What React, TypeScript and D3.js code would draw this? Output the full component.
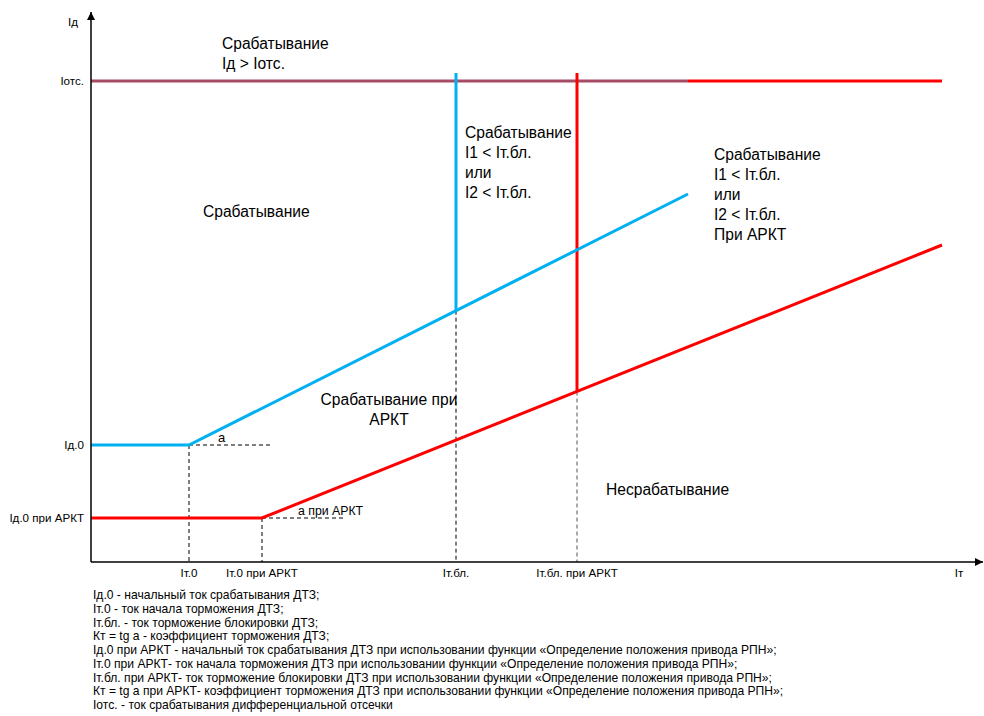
import React from "react";
import * as d3 from "d3";

// Characteristic points (Iт, Iд in relative units)
const xTickNames = ["Iт.0", "Iт.0 при АРКТ", "Iт.бл.", "Iт.бл. при АРКТ"];
const xTickValues = [9.8, 17.1, 36.5, 48.6];
const yTickNames = ["Iотс.", "Iд.0", "Iд.0 при АРКТ"];
const yTickValues = [48.1, 11.7, 4.4];

const blueLine = [
  { x: 0, y: 11.7 },
  { x: 9.8, y: 11.7 },
  { x: 59.7, y: 36.8 },
];
const redLine = [
  { x: 0, y: 4.4 },
  { x: 17.1, y: 4.4 },
  { x: 85.1, y: 31.7 },
];
const otsLineMixed = [{ x: 0, y: 48.1 }, { x: 59.7, y: 48.1 }];
const otsLineRed = [{ x: 59.7, y: 48.1 }, { x: 85.1, y: 48.1 }];
const blueVertical = [{ x: 36.5, y: 48.9 }, { x: 36.5, y: 25.13 }];
const redVertical = [{ x: 48.6, y: 48.9 }, { x: 48.6, y: 17.05 }];

const footerLines = [
  "Iд.0 - начальный ток срабатывания ДТЗ;",
  "Iт.0 - ток начала торможения ДТЗ;",
  "Iт.бл. - ток торможение блокировки ДТЗ;",
  "Кт = tg a - коэффициент торможения ДТЗ;",
  "Iд.0 при АРКТ - начальный ток срабатывания ДТЗ при использовании функции «Определение положения привода РПН»;",
  "Iт.0  при АРКТ- ток начала торможения ДТЗ при использовании функции «Определение положения привода РПН»;",
  "Iт.бл.  при АРКТ- ток торможение блокировки ДТЗ при использовании функции «Определение положения привода РПН»;",
  "Кт = tg a  при АРКТ- коэффициент торможения ДТЗ при использовании функции «Определение положения привода РПН»;",
  "Iотс. - ток срабатывания дифференциальной отсечки",
];

const x = d3.scaleLinear().domain([0, 88.4]).range([91, 975]);
const y = d3.scaleLinear().domain([0, 55]).range([562, 12]);
const line = d3
  .line<{ x: number; y: number }>()
  .x((d) => x(d.x))
  .y((d) => y(d.y));

const BLUE = "#00B0F0";
const RED = "#FF0000";
const MAROON = "#A64B65";
const FONT = "Arial, 'Liberation Sans', sans-serif";
const NARROW = "'Liberation Sans Narrow', 'Arial Narrow', Arial, sans-serif";

export default function App() {
  const x0 = x(0);
  const y0 = y(0);
  return (
    <svg
      width={984}
      height={716}
      style={{ position: "absolute", left: 0, top: 0, background: "#fff" }}
      fontFamily={FONT}
    >
      <defs>
        <marker id="arr" viewBox="0 0 10 10" refX="10" refY="5" markerWidth="8" markerHeight="8" orient="auto-start-reverse" markerUnits="userSpaceOnUse">
          <path d="M0,0 L10,5 L0,10 z" fill="#000" />
        </marker>
      </defs>

      {/* dashed guides */}
      <g stroke="#000" strokeWidth={1} strokeDasharray="4,3" fill="none">
        <line x1={x(xTickValues[0])} x2={x(xTickValues[0])} y1={y(11.7)} y2={y0} />
        <line x1={x(xTickValues[1])} x2={x(xTickValues[1])} y1={y(4.4)} y2={y0} />
        <line x1={x(xTickValues[2])} x2={x(xTickValues[2])} y1={y(25.13)} y2={y0} />
        <line x1={x(xTickValues[3])} x2={x(xTickValues[3])} y1={y(17.05)} y2={y0} stroke="#555" />
        <line x1={x(9.8)} x2={x(18.1)} y1={y(11.7)} y2={y(11.7)} />
        <line x1={x(17.1)} x2={x(25.5)} y1={y(4.4)} y2={y(4.4)} />
      </g>

      {/* characteristic lines */}
      <path d={line(otsLineMixed)!} stroke={MAROON} strokeWidth={3} fill="none" />
      <path d={line(otsLineRed)!} stroke={RED} strokeWidth={3} fill="none" />
      <path d={line(blueVertical)!} stroke={BLUE} strokeWidth={3} fill="none" />
      <path d={line(redVertical)!} stroke={RED} strokeWidth={3} fill="none" />
      <path d={line(blueLine)!} stroke={BLUE} strokeWidth={3} fill="none" />
      <path d={line(redLine)!} stroke={RED} strokeWidth={3} fill="none" />

      {/* axes */}
      <line x1={x0} x2={x0} y1={y0} y2={y(55)} stroke="#000" strokeWidth={1.5} markerEnd="url(#arr)" />
      <line x1={x0} x2={983} y1={y0} y2={y0} stroke="#000" strokeWidth={1.5} markerEnd="url(#arr)" />

      {/* axis labels */}
      <g fontSize={11.6} fill="#000">
        <text x={68} y={26}>Iд</text>
        {yTickValues.map((v, i) => (
          <text key={i} x={84} y={y(v) + 4} textAnchor="end">{yTickNames[i]}</text>
        ))}
        {xTickValues.map((v, i) => (
          <text key={i} x={x(v)} y={577} textAnchor="middle">{xTickNames[i]}</text>
        ))}
        <text x={959} y={577} textAnchor="middle">Iт</text>
        <text x={218} y={442} fontSize={13}>a</text>
        <text x={298} y={515} fontSize={12.3}>a при АРКТ</text>
      </g>

      {/* zone labels */}
      <g fontSize={15.6} fill="#000">
        <text x={222} y={49}>Срабатывание</text>
        <text x={222} y={69}>Iд &gt; Iотс.</text>
        <text x={203} y={217}>Срабатывание</text>
        <text x={465} y={138}>Срабатывание</text>
        <text x={465} y={158}>I1 &lt; Iт.бл.</text>
        <text x={465} y={178}>или</text>
        <text x={465} y={198}>I2 &lt; Iт.бл.</text>
        <text x={714} y={160}>Срабатывание</text>
        <text x={714} y={180}>I1 &lt; Iт.бл.</text>
        <text x={714} y={200}>или</text>
        <text x={714} y={220}>I2 &lt; Iт.бл.</text>
        <text x={714} y={240}>При АРКТ</text>
        <text x={389} y={405} textAnchor="middle">Срабатывание при</text>
        <text x={389} y={425} textAnchor="middle">АРКТ</text>
        <text x={606} y={495}>Несрабатывание</text>
      </g>

      {/* footer */}
      <g fontSize={12.1} fill="#000" fontFamily={NARROW} style={{ whiteSpace: "pre" }}>
        {footerLines.map((t, i) => (
          <text key={i} x={93} y={599 + i * 13.75}>{t}</text>
        ))}
      </g>
    </svg>
  );
}
